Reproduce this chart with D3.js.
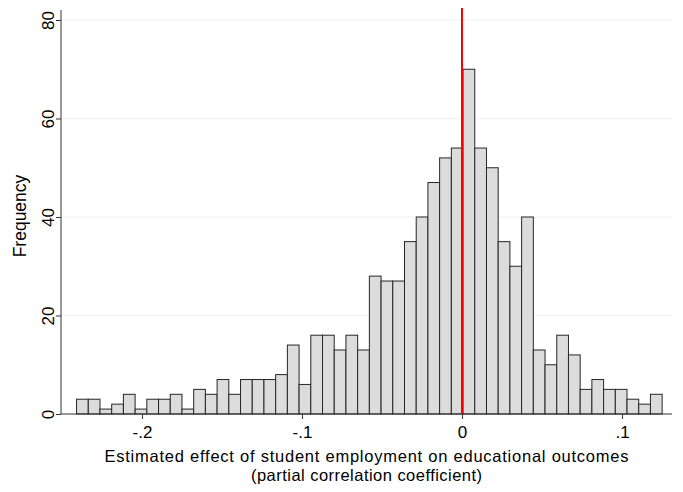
<!DOCTYPE html>
<html>
<head>
<meta charset="utf-8">
<script src="https://cdn.jsdelivr.net/npm/d3@7"></script>
<style>
  html, body { margin: 0; padding: 0; background: #fff; }
  svg { display: block; font-family: "Liberation Sans", Arial, sans-serif; }
</style>
</head>
<body>
<svg id="chart" width="683" height="492"></svg>
<script>
// ---- data ----
const binStart = -0.2409;
const binWidth = 0.00732;
const counts = [3,3,1,2,4,1,3,3,4,1,
                5,4,7,4,7,7,7,8,14,6,
                16,16,13,16,13,28,27,27,35,40,
                47,52,54,70,54,50,35,30,40,13,
                10,16,12,5,7,5,5,3,2,4];
const xTicks = [-0.2, -0.1, 0, 0.1];
const xTickLabels = ["-.2", "-.1", "0", ".1"];
const yTicks = [0, 20, 40, 60, 80];
const refLine = 0;
const xTitle = ["Estimated effect of student employment on educational outcomes",
                "(partial correlation coefficient)"];
const yTitle = "Frequency";

// ---- layout ----
const svg = d3.select("#chart");
const plot = { left: 61, right: 672, top: 20, bottom: 414 };
const FONT = "Liberation Sans, Arial, sans-serif";

const x = d3.scaleLinear().domain([-0.250625, 0.13125]).range([plot.left, plot.right]);
const y = d3.scaleLinear().domain([0, 80]).range([plot.bottom, plot.top]);

const bins = counts.map((c, i) => ({ x0: binStart + i * binWidth, x1: binStart + (i + 1) * binWidth, n: c }));

// grid
svg.append("g").selectAll("line").data(yTicks.filter(d => d > 0)).join("line")
  .attr("x1", plot.left).attr("x2", plot.right)
  .attr("y1", d => y(d)).attr("y2", d => y(d))
  .attr("stroke", "#eaf2f3").attr("stroke-width", 1);

// bars
svg.append("g").selectAll("rect").data(bins).join("rect")
  .attr("x", d => x(d.x0))
  .attr("width", d => x(d.x1) - x(d.x0))
  .attr("y", d => y(d.n))
  .attr("height", d => y(0) - y(d.n))
  .attr("fill", "#dcdcdc")
  .attr("stroke", "#262626")
  .attr("stroke-width", 1);

// reference line
svg.append("line")
  .attr("x1", x(refLine)).attr("x2", x(refLine))
  .attr("y1", 8).attr("y2", y(0))
  .attr("stroke", "#ff0000").attr("stroke-width", 2);

// y axis
const yAxis = d3.axisLeft(y).tickValues(yTicks).tickSize(5).tickSizeOuter(0).tickFormat(d3.format("d"));
const gy = svg.append("g").attr("transform", `translate(${plot.left},0)`).call(yAxis);
gy.select(".domain").attr("d", `M0,${y(0)}V10`).attr("stroke", "#333");
gy.selectAll(".tick line").attr("stroke", "#333");
gy.selectAll(".tick text")
  .attr("x", null).attr("dy", null)
  .attr("transform", "translate(-7,0) rotate(-90)")
  .attr("text-anchor", "middle")
  .attr("font-size", 17).attr("fill", "#000")
  .attr("font-family", FONT);

// x axis
const xAxis = d3.axisBottom(x).tickValues(xTicks).tickSize(5).tickSizeOuter(0)
  .tickFormat((d, i) => xTickLabels[i]);
const gx = svg.append("g").attr("transform", `translate(0,${plot.bottom})`).call(xAxis);
gx.select(".domain").attr("d", `M${plot.left},0H${plot.right}`).attr("stroke", "#333");
gx.selectAll(".tick line").attr("stroke", "#333");
gx.selectAll(".tick text")
  .attr("y", 23.5).attr("dy", null)
  .attr("font-size", 17).attr("fill", "#000")
  .attr("font-family", FONT);

// titles
const cx = (plot.left + plot.right) / 2;
svg.append("text").attr("x", cx).attr("y", 461.5).attr("text-anchor", "middle")
  .attr("font-size", 16.5).attr("textLength", 524).attr("lengthAdjust", "spacing")
  .text(xTitle[0]);
svg.append("text").attr("x", cx).attr("y", 480.5).attr("text-anchor", "middle")
  .attr("font-size", 16.5).attr("textLength", 231).attr("lengthAdjust", "spacing")
  .text(xTitle[1]);
svg.append("text").attr("transform", "translate(26,216) rotate(-90)").attr("text-anchor", "middle")
  .attr("font-size", 17.5).text(yTitle);
</script>
</body>
</html>
